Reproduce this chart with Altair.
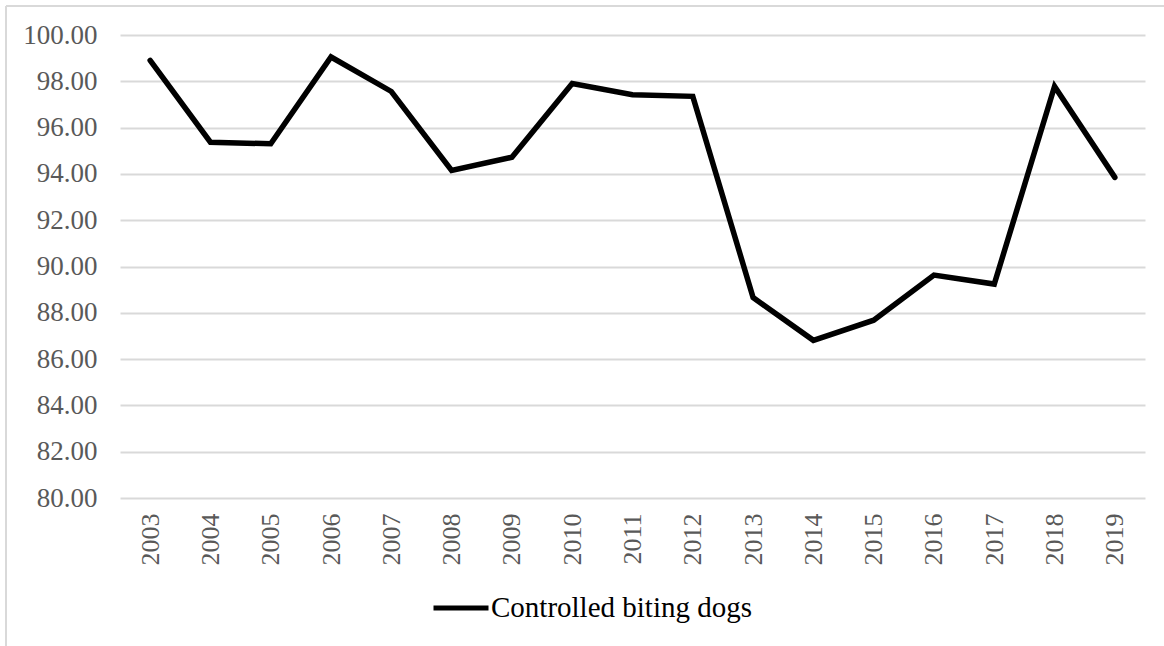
import altair as alt
import pandas as pd

# Annual share of controlled biting dogs (%)
years = [str(y) for y in range(2003, 2020)]
values = [98.90, 95.37, 95.30, 99.05, 97.56, 94.15, 94.72, 97.90, 97.42, 97.35,
          88.66, 86.81, 87.68, 89.63, 89.24, 97.78, 93.85]
series_name = "Controlled biting dogs"
y_ticks = [80, 82, 84, 86, 88, 90, 92, 94, 96, 98, 100]

df = pd.DataFrame({"year": years, "value": values, "series": series_name})

FONT = "Liberation Serif"
GRID = "#d9d9d9"
AXIS_TEXT = "#595959"

PLOT_W = 1025
PLOT_H = 463
LEFT = 120
TOP = 35
RIGHT = 1164 - LEFT - PLOT_W
BOTTOM = 646 - TOP - PLOT_H

line = alt.Chart(df).mark_line(strokeWidth=5.5, strokeJoin="miter", strokeCap="round").encode(
    x=alt.X(
        "year:O",
        sort=years,
        scale=alt.Scale(type="point", padding=0.5),
        axis=alt.Axis(
            title=None, labelAngle=-90, labelFont=FONT, labelFontSize=26,
            labelColor=AXIS_TEXT, ticks=False, domain=False, labelPadding=15,
            grid=False,
        ),
    ),
    y=alt.Y(
        "value:Q",
        scale=alt.Scale(domain=[80, 100], nice=False, zero=False),
        axis=alt.Axis(
            title=None, values=y_ticks, format=".2f", labelFont=FONT,
            labelFontSize=27, labelColor=AXIS_TEXT, ticks=False, domain=False,
            labelPadding=23, grid=True, gridColor=GRID, gridWidth=2,
        ),
    ),
    color=alt.Color(
        "series:N",
        scale=alt.Scale(domain=[series_name], range=["#000000"]),
        legend=alt.Legend(
            title=None, orient="none", legendX=311, legendY=543,
            direction="horizontal", symbolType="stroke", symbolSize=3025,
            symbolStrokeWidth=5, labelFont=FONT, labelFontSize=29,
            labelColor="#000000", labelOffset=0, labelLimit=400,
        ),
    ),
)

# Outer chart frame (left and top edges)
frame_left = alt.Chart(df).mark_rule(color=GRID, strokeWidth=2).encode(
    x=alt.value(-LEFT + 6), y=alt.value(-TOP + 6), y2=alt.value(700)
)
frame_top = alt.Chart(df).mark_rule(color=GRID, strokeWidth=2).encode(
    x=alt.value(-LEFT + 6), x2=alt.value(1200), y=alt.value(-TOP + 6)
)

chart = alt.layer(frame_left, frame_top, line).properties(
    width=PLOT_W,
    height=PLOT_H,
    padding={"left": LEFT, "top": TOP, "right": RIGHT, "bottom": BOTTOM},
    autosize=alt.AutoSizeParams(type="none"),
    background="white",
).configure_view(stroke=None)

chart.save("out.html", embed_options={"renderer": "svg", "actions": False})
